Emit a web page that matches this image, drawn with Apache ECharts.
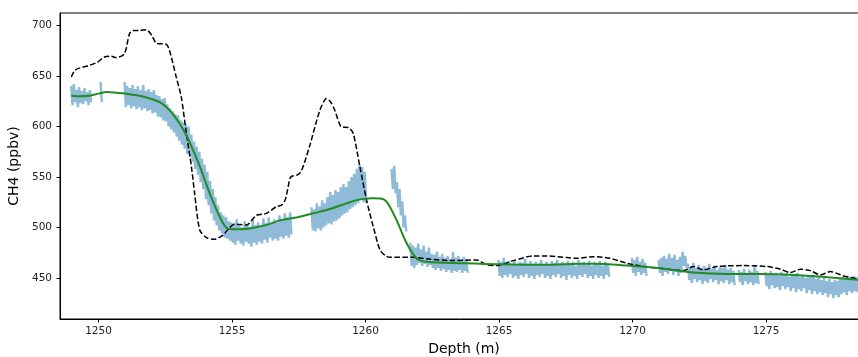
<!DOCTYPE html>
<html>
<head>
<meta charset="utf-8">
<script src="https://cdn.jsdelivr.net/npm/echarts@6/dist/echarts.min.js"></script>
<style>
html,body{margin:0;padding:0;background:#fff;}
#chart{width:858px;height:357px;}
</style>
</head>
<body>
<div id="chart"></div>
<script>
// ---- Data ----
const xTicks = [1250, 1255, 1260, 1265, 1270, 1275];
const yTicks = [450, 500, 550, 600, 650, 700];

// Smooth fit (green)
const greenDepth = [1248.98,1249.3,1249.66,1250.0,1250.3,1250.6,1251.04,1251.66,1252.29,1252.66,1253.04,1253.35,1253.6,1253.8,1254.16,1254.54,1254.85,1255.29,1256.29,1256.79,1257.54,1258.04,1258.7,1259.29,1259.79,1260.3,1260.54,1260.79,1261.16,1261.54,1261.91,1262.29,1263.66,1264.91,1266.79,1268.04,1268.54,1269.79,1271.04,1272.29,1273.54,1274.79,1276.04,1277.29,1278.46,1278.85];
const greenCH4  = [630.5,629.8,630.3,632.5,634,633.5,632.4,629.7,624,616,602.7,588,573,560,534,510.6,498.8,498.2,502.5,507,510.7,514,518.5,523.9,527.8,528.9,528.8,525.5,507.4,484.4,469.6,466,464.6,463.6,463,464,464,462.3,459.6,455.4,454,454,453,450.8,448.3,447.5];

// Dashed reference curve (black)
const blackDepth = [1248.98,1249.1,1249.22,1249.66,1249.97,1250.22,1250.48,1250.66,1250.97,1251.16,1251.29,1251.55,1251.79,1252.0,1252.16,1252.54,1252.66,1252.91,1253.1,1253.29,1253.48,1253.6,1253.79,1254.04,1254.35,1254.66,1254.91,1255.1,1255.54,1255.91,1256.29,1256.66,1256.85,1257.0,1257.1,1257.2,1257.45,1257.6,1257.9,1258.29,1258.54,1258.7,1258.85,1259.1,1259.35,1259.54,1259.79,1260.04,1260.29,1260.54,1260.75,1260.91,1261.79,1262.41,1263.29,1264.16,1264.54,1264.91,1265.54,1266.29,1266.79,1267.54,1267.91,1268.54,1269.16,1269.79,1270.41,1271.04,1271.91,1272.29,1272.66,1273.16,1274.16,1275.04,1275.54,1275.91,1276.29,1276.66,1277.04,1277.41,1277.91,1278.46,1278.85];
const blackCH4  = [649,655,657.2,660.5,663.8,668.7,669.4,668,672,691.8,695,695,695.7,690,682.5,681.2,675,649,629,593,560,533.7,497.5,490,488.3,492.5,499.8,503.4,502.5,512,514,520.6,522,528,540,550,552,556,580,616,627.6,624,616,599.5,599,593,560,527,500.8,477.8,472,470.5,470.5,468.6,467.2,467.9,463,462.3,467.2,471.8,471.8,470.2,469.5,471.1,469.5,464.6,461.3,459.6,457.3,461.3,458,461.3,462.3,461.3,458.7,455.4,458.7,457.3,453,456.3,452,448.8,447.5];

// High-resolution measurements (blue): segments sampled every 0.1 m, low / high of the noisy trace
const blueStep = 0.1;
const blueStart = [1249.0, 1250.1, 1251.0, 1258.0, 1261.0, 1261.7, 1265.0, 1270.0, 1271.0, 1272.1, 1274.0, 1275.0];
const blueLo = [
  [621,624,619,623,622,625,621,624],
  [624],
  [619,621,618,620,617,619,616,618,615,616,613,614,610,609,606,605,600,597,594,590,586,582,578,573,570,565,558,552,545,538,528,522,514,507,502,497,494,490,489,487,485,483,487,484,482,486,484,481,485,483,486,484,488,485,490,487,489,487,491,489,492,490,493],
  [497,496,499,497,500,502,504,503,506,507,509,512,514,515,518,520,522,524,528,525,524],
  [538,534,520,512,500,496],
  [462,460,463,465,462,464,461,463,460,458,460,457,459,456,458,455,457,456,458,455,457,455],
  [452,450,453,451,454,450,452,449,453,451,454,450,452,449,453,451,454,450,452,449,453,451,454,450,452,448,453,450,452,449,453,451,454,450,452,449,453,450,452,449,453,451],
  [455,452,456,453,455,452],
  [455,452,456,454,457,453,456,452,455,462,460],
  [448,445,449,446,448,444,447,445,449,446,448,444,447,445,448,444,446,443],
  [446,443,447,444,446,443,445,444],
  [442,439,443,440,441,438,442,439,441,437,440,436,439,437,440,435,438,434,437,434,436,433,435,431,434,430,433,431,434,436,433,437,435,437,436,438,437,436,438]
];
const blueHi = [
  [640,642,636,639,635,638,634,636],
  [644],
  [644,640,638,641,637,640,636,641,635,637,634,636,631,630,627,628,622,618,615,612,611,606,604,602,600,592,585,580,575,568,562,555,546,538,530,522,515,512,510,506,505,503,508,502,500,506,503,499,508,502,505,500,509,504,510,503,508,505,512,507,514,510,515],
  [520,518,524,521,527,524,530,535,532,537,535,540,543,540,546,550,553,558,562,560,555],
  [558,561,545,538,526,512],
  [485,482,480,484,478,482,476,480,474,473,476,471,474,470,472,469,476,470,472,468,471,469],
  [468,466,470,465,467,464,468,463,466,465,469,464,467,462,466,464,468,463,466,462,467,465,468,464,466,463,467,464,466,462,468,464,466,463,467,462,466,464,467,462,466,464],
  [470,468,471,466,469,465],
  [468,470,472,469,474,470,473,468,471,476,472],
  [464,461,465,460,463,459,462,460,464,459,462,458,461,460,463,458,460,457],
  [458,456,459,455,458,456,462,457],
  [456,454,457,453,455,452,456,453,455,451,454,452,455,451,453,450,452,451,453,449,452,448,450,447,449,446,448,447,450,451,449,452,450,452,451,450,452,450,451]
];

// ---- Build series data: the noisy trace goes high, low, high, low within each sample ----
const blueData = [];
blueStart.forEach((s, k) => {
  blueLo[k].forEach((lo, i) => {
    const d = s + i * blueStep;
    blueData.push([+(d - blueStep / 4).toFixed(3), blueHi[k][i]]);
    blueData.push([+(d + blueStep / 4).toFixed(3), lo]);
  });
  blueData.push([+(s + blueLo[k].length * blueStep).toFixed(3), null]);
});
const greenData = greenDepth.map((d, i) => [d, greenCH4[i]]);
const blackData = blackDepth.map((d, i) => [d, blackCH4[i]]);

const FONT = 'DejaVu Sans';
const chart = echarts.init(document.getElementById('chart'), null, {renderer: 'canvas'});
chart.setOption({
  animation: false,
  backgroundColor: '#fff',
  grid: {left: 60, right: -10, top: 13, bottom: 38, outerBoundsMode: 'none', containLabel: false,
         show: true, borderColor: '#000', borderWidth: 1, backgroundColor: 'transparent'},
  xAxis: {
    type: 'value', min: 1248.557, max: 1278.82,
    name: 'Depth (m)', nameLocation: 'middle', nameGap: 22,
    nameTextStyle: {fontFamily: FONT, fontSize: 14, color: '#000'},
    axisLine: {show: true, lineStyle: {color: '#000', width: 1}},
    axisTick: {show: true, length: 3.5, lineStyle: {color: '#000'}, customValues: xTicks},
    axisLabel: {fontFamily: FONT, fontSize: 10.5, color: '#222', margin: 7, customValues: xTicks,
                formatter: v => String(v)},
    splitLine: {show: false}
  },
  yAxis: {
    type: 'value', min: 409.4, max: 712.3,
    name: 'CH4 (ppbv)', nameLocation: 'middle', nameGap: 28,
    nameTextStyle: {fontFamily: FONT, fontSize: 14, color: '#000'},
    axisLine: {show: true, lineStyle: {color: '#000', width: 1}},
    axisTick: {show: true, length: 3.5, lineStyle: {color: '#000'}, customValues: yTicks},
    axisLabel: {fontFamily: FONT, fontSize: 10.5, color: '#222', margin: 8, customValues: yTicks,
                formatter: v => String(v)},
    splitLine: {show: false}
  },
  series: [
    {
      type: 'line', name: 'measurements', data: blueData, showSymbol: false, connectNulls: false, z: 1,
      lineStyle: {color: '#1f77b4', opacity: 0.5, width: 2.4, join: 'bevel'}
    },
    {
      type: 'line', name: 'reference', data: blackData, smooth: 0.25, showSymbol: false, z: 3,
      lineStyle: {color: '#000', width: 1.5, type: [5.5, 2.4]}
    },
    {
      type: 'line', name: 'fit', data: greenData, smooth: 0.3, showSymbol: false, z: 4,
      lineStyle: {color: '#228b22', width: 2}
    }
  ]
});
</script>
</body>
</html>
